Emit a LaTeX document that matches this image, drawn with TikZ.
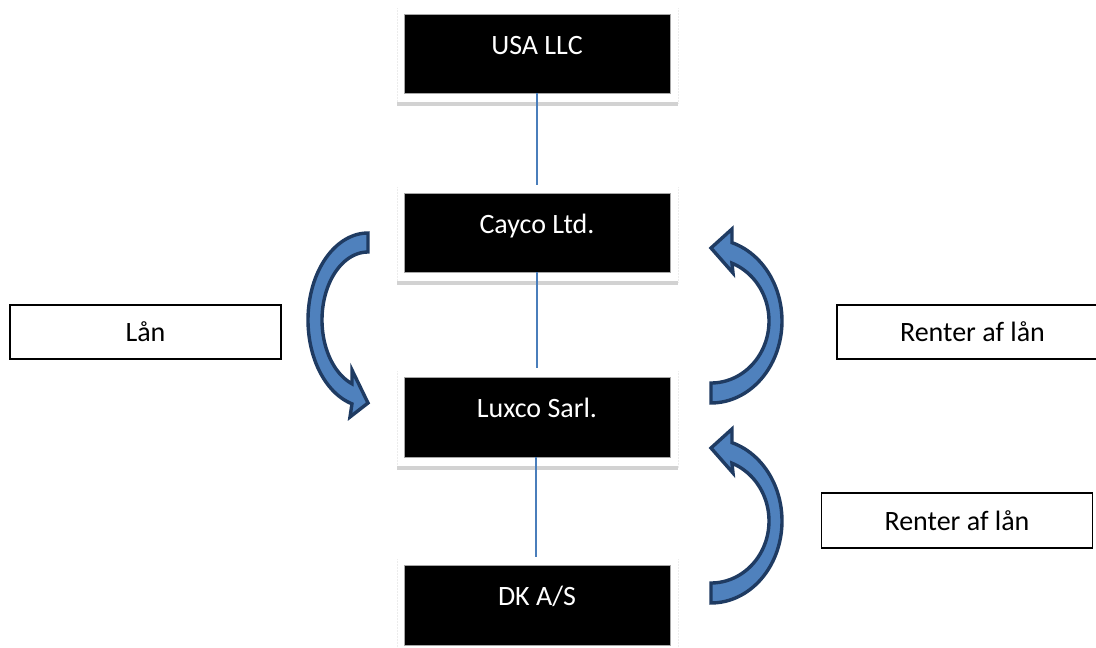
\documentclass[tikz,border=0pt]{standalone}
\usepackage{fontspec}
\setmainfont{Carlito}
\definecolor{arrowfill}{HTML}{4F81BD}
\definecolor{arrowedge}{HTML}{1F3B62}
\definecolor{linkblue}{HTML}{4A7EBB}
\begin{document}
\begin{tikzpicture}[x=1pt,y=-1pt,
  font=\fontsize{28}{34}\selectfont,
  entity/.style={fill=black, draw=gray!70, line width=0.8pt,
    minimum width=266pt, minimum height=79pt, inner sep=0pt,
    text=white, text height=20pt, text depth=19pt},
  note/.style={fill=white, draw=black, line width=1.4pt,
    minimum width=271pt, minimum height=54pt, inner sep=0pt},
  link/.style={draw=linkblue, line width=1.3pt},
  bendarrow/.style={fill=arrowfill, draw=arrowedge, line width=3.4pt, line join=miter},
  frame/.style={draw=gray!15, line width=0.5pt, densely dotted},
  strip/.style={fill=gray!35, draw=none}]

\useasboundingbox (0,0) rectangle (1096,648);
\clip (0,0) rectangle (1096,648);

% faint frames and shadow strips behind the entity boxes
\foreach \t/\b in {14/93,193/272,377/457,565/645} {
  \draw[frame] (397,\t-6) -- (397,\b+11);
  \draw[frame] (678,\t-6) -- (678,\b+11);
  \fill[strip] (397,\b+9) rectangle (678,\b+13);
}

% entities
\node[entity] (usa) at (537,53.5) {USA LLC};
\node[entity] (cayco) at (537,232.5) {Cayco Ltd.};
\node[entity, minimum height=80pt] (luxco) at (537,417) {Luxco Sarl.};
\node[entity, minimum height=80pt] (dk) at (537,605) {DK A/S};

% ownership links
\draw[link] (usa.south) -- ([yshift=8pt]cayco.north);
\draw[link] (cayco.south) -- ([yshift=9pt]luxco.north);
\draw[link] ([xshift=-1pt]luxco.south) -- ([xshift=-1pt,yshift=8pt]dk.north);

% labels
\node[note] (loan) at (145.5,332) {Lån};
\node[note] (int1) at (972.5,332) {Renter af lån};
\node[note, minimum height=55pt] (int2) at (957,520.5) {Renter af lån};

% loan arrow: Cayco -> Luxco
\path[bendarrow] (368,233)
  -- plot[domain=90:254.5, samples=60] ({368+60*cos(\x)},{320-87*sin(\x)})
  -- (350,417) -- (368,403) -- (352,370)
  -- plot[domain=249.6:90, samples=60] ({368+46*cos(\x)},{320-68*sin(\x)})
  -- cycle;

% interest arrows: Luxco -> Cayco and DK -> Luxco
\foreach \dy in {0,200} {
  \path[bendarrow] (711,403+\dy)
    -- plot[domain=-90:72.8, samples=60] ({711+71*cos(\x)},{321+\dy-82*sin(\x)})
    -- (732,229+\dy) -- (711,248+\dy) -- (733,273+\dy)
    -- plot[domain=68.8:-90, samples=60] ({711+58*cos(\x)},{321+\dy-62*sin(\x)})
    -- cycle;
}
\end{tikzpicture}
\end{document}
